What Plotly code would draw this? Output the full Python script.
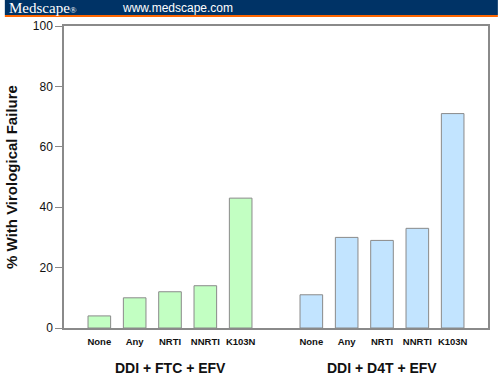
import plotly.graph_objects as go

categories = ["None", "Any", "NRTI", "NNRTI", "K103N"]
groups = ["DDI + FTC + EFV", "DDI + D4T + EFV"]
ftc_values = [4, 10, 12, 14, 43]
d4t_values = [11, 30, 29, 33, 71]
y_ticks = [0, 20, 40, 60, 80, 100]

x_left = [0, 1, 2, 3, 4]
x_right = [6, 7, 8, 9, 10]

W, H = 500, 383
L, R, T, B = 60, 10, 26, 55
pw, ph = W - L - R, H - T - B

fig = go.Figure()
fig.add_trace(go.Bar(x=x_left, y=ftc_values, width=0.64,
                     marker=dict(color="#c2ffc2", line=dict(color="#8a8a8a", width=1)),
                     showlegend=False))
fig.add_trace(go.Bar(x=x_right, y=d4t_values, width=0.64,
                     marker=dict(color="#c2e4ff", line=dict(color="#8a8a8a", width=1)),
                     showlegend=False))

font_family = "Liberation Sans, Arial, sans-serif"

fig.update_layout(
    width=W, height=H,
    margin=dict(l=L, r=R, t=T, b=B),
    paper_bgcolor="white", plot_bgcolor="white",
    font=dict(family=font_family, color="#111"),
    xaxis=dict(range=[-1, 11], tickvals=x_left + x_right,
               ticktext=["<b>%s</b>" % c for c in categories] * 2,
               tickfont=dict(size=9.5, color="#111"), ticklabelstandoff=4,
               showline=True, linecolor="#8a8a8a", linewidth=1.5, mirror=True,
               ticks="", showgrid=False, zeroline=False, fixedrange=True),
    yaxis=dict(range=[0, 100], tickvals=y_ticks,
               tickfont=dict(size=12, color="#111"),
               showline=True, linecolor="#8a8a8a", linewidth=1.5, mirror=True,
               ticks="outside", ticklen=7, tickcolor="#8a8a8a",
               showgrid=False, zeroline=False,
               title=dict(text="<b>% With Virological Failure</b>",
                          font=dict(size=15, color="#111"), standoff=12)),
)

def px2py(py):
    return 1 - (py - T) / ph

def px2px(px):
    return (px - L) / pw

# group labels
for gx, g in zip([2, 8], groups):
    fig.add_annotation(x=gx, xref="x", y=px2py(368), yref="paper",
                       text="<b>%s</b>" % g, showarrow=False,
                       font=dict(size=14, color="#111"), yanchor="middle")

# header bar
fig.add_shape(type="rect", xref="paper", yref="paper",
              x0=px2px(0), x1=px2px(W), y0=px2py(15), y1=px2py(0),
              fillcolor="#003366", line=dict(width=0), layer="above")
fig.add_shape(type="rect", xref="paper", yref="paper",
              x0=px2px(0), x1=px2px(W), y0=px2py(17), y1=px2py(15),
              fillcolor="#ff6600", line=dict(width=0), layer="above")
fig.add_annotation(xref="paper", yref="paper", x=px2px(3), y=px2py(8),
                   xanchor="left", yanchor="middle", showarrow=False, borderpad=0,
                   text="Medscape<span style='font-size:9px'>®</span>",
                   font=dict(family="Liberation Serif, Times New Roman, serif", size=15, color="white"))
fig.add_annotation(xref="paper", yref="paper", x=px2px(118), y=px2py(8),
                   xanchor="left", yanchor="middle", showarrow=False, borderpad=0,
                   text="www.medscape.com",
                   font=dict(family=font_family, size=12, color="white"))

fig.write_html("out.html", config={"displayModeBar": False},
               post_script="document.body.style.margin='0';document.body.style.overflow='hidden';")
